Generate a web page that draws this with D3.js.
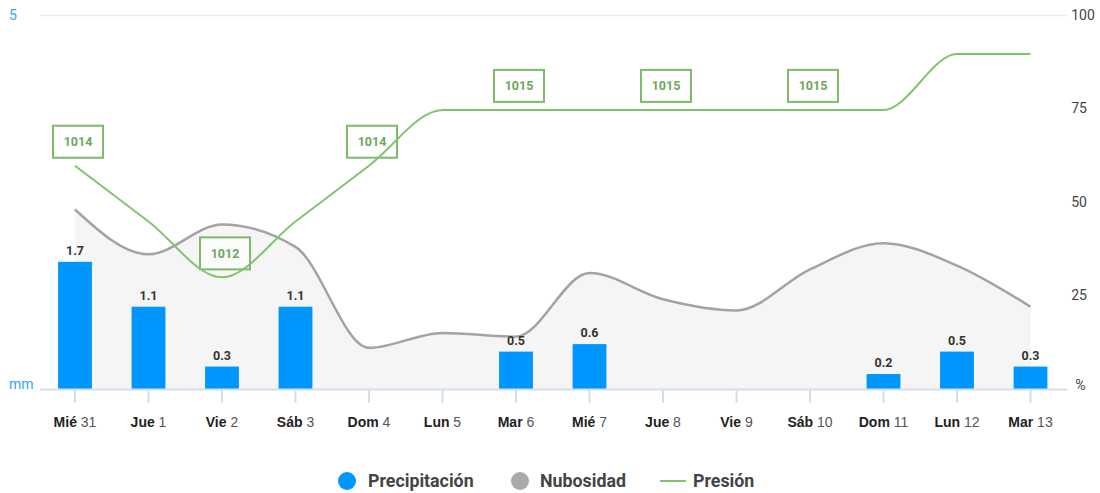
<!DOCTYPE html>
<html><head><meta charset="utf-8">
<script src="https://cdn.jsdelivr.net/npm/d3@7"></script>
<style>
body{margin:0;background:#fff;font-family:Roboto,"Noto Sans",sans-serif;}
svg{display:block;}
</style></head>
<body><svg id="c" width="1100" height="493"></svg>
<script>
const dayNames = ["Mié","Jue","Vie","Sáb","Dom","Lun","Mar","Mié","Jue","Vie","Sáb","Dom","Lun","Mar"];
const dayNums = ["31","1","2","3","4","5","6","7","8","9","10","11","12","13"];
const precipitation = [1.7,1.1,0.3,1.1,0,0,0.5,0.6,0,0,0,0.2,0.5,0.3];
const cloudiness = [48,36,44,38,11,15,14,31,24,21,32,39,33,22];
const pressure = [1014,1013,1012,1013,1014,1015,1015,1015,1015,1015,1015,1015,1016,1016];
const pressureLabelDays = [0,2,4,6,8,10];
const rightTicks = [0,25,50,75,100];
const leftLabels = ["5","mm"];
const legendItems = ["Precipitación","Nubosidad","Presión"];

const svg = d3.select("#c");
const L = 38.25, R = 1067.25, T = 15, B = 389;
const idx = d3.range(dayNames.length);

const x = d3.scaleBand().domain(idx).range([L, R]).paddingInner(0.54).paddingOuter(0.27);
const cx = i => x(i) + x.bandwidth()/2;
const yP = d3.scaleLinear().domain([0,5]).range([B,T]);
const yC = d3.scaleLinear().domain([0,100]).range([B,T]);
const yPr = d3.scaleLinear().domain([1010,1016.7]).range([B,T]);

// top gridline
svg.append("line").attr("x1",40).attr("x2",R).attr("y1",yC(100)+0.5).attr("y2",yC(100)+0.5)
  .attr("stroke","#ececec").attr("stroke-width",1.5);

// cloud area
const area = d3.area().x((d,i)=>cx(i)).y0(B).y1(d=>yC(d)).curve(d3.curveMonotoneX);
const line = d3.line().x((d,i)=>cx(i)).y(d=>yC(d)).curve(d3.curveMonotoneX);
svg.append("path").attr("d",area(cloudiness)).attr("fill","#f5f5f5");
svg.append("path").attr("d",line(cloudiness)).attr("fill","none").attr("stroke","#a3a3a3").attr("stroke-width",2.5);

// bars
svg.selectAll("rect.bar").data(precipitation).join("rect").attr("class","bar")
  .attr("x",(d,i)=>x(i)).attr("width",x.bandwidth())
  .attr("y",d=>yP(d)).attr("height",d=>B-yP(d))
  .attr("fill","#0096ff");
svg.selectAll("text.bl").data(precipitation.map((v,i)=>({v,i})).filter(d=>d.v>0)).join("text").attr("class","bl")
  .attr("x",d=>cx(d.i)).attr("y",d=>yP(d.v)-7).attr("text-anchor","middle")
  .attr("font-size",12.5).attr("font-weight","bold").attr("fill","#333").text(d=>d.v.toFixed(1));

// pressure labels
const pl = svg.selectAll("g.pl").data(pressureLabelDays).join("g").attr("class","pl")
  .attr("transform",i=>`translate(${cx(i)+3},${yPr(pressure[i])-24})`);
pl.append("rect").attr("x",-25).attr("y",-16).attr("width",50).attr("height",32)
  .attr("fill","rgba(255,255,255,0.6)").attr("stroke","#7dba6a").attr("stroke-width",2);
pl.append("text").attr("text-anchor","middle").attr("dy","0.35em").attr("font-size",12.5)
  .attr("font-weight","bold").attr("fill","#6aa85a").text(i=>pressure[i]);

// pressure line
const pline = d3.line().x((d,i)=>cx(i)).y(d=>yPr(d)).curve(d3.curveMonotoneX);
svg.append("path").attr("d",pline(pressure)).attr("fill","none").attr("stroke","#82c36e").attr("stroke-width",2);

// x axis
const xa = svg.append("g").attr("transform",`translate(0,${B})`)
  .call(d3.axisBottom(x).tickSize(14).tickSizeOuter(0).tickFormat(""));
xa.select(".domain").attr("d",`M40,0.5H${R}`).attr("stroke","#d5ddec").attr("stroke-width",2);
xa.selectAll(".tick line").attr("stroke","#d5ddec").attr("stroke-width",2);
const xt = xa.selectAll(".tick").append("text").attr("y",38).attr("text-anchor","middle")
  .attr("font-size",14).attr("fill","#222");
xt.append("tspan").attr("font-weight","bold").text(i=>dayNames[i]);
xt.append("tspan").attr("fill","#555").text(i=>" "+dayNums[i]);

// right axis
const ra = svg.append("g").attr("transform",`translate(${R},0)`)
  .call(d3.axisRight(yC).tickValues(rightTicks).tickSize(0).tickPadding(4).tickFormat(d=>d===0?"%":d));
ra.select(".domain").remove();
ra.selectAll("text").attr("font-size",14).attr("fill","#444").attr("font-family","Roboto");
ra.selectAll(".tick").filter(d=>d===0).select("text").attr("dy","0.05em").attr("x",8);

// left axis labels
svg.append("text").attr("x",9).attr("y",T).attr("dy","0.35em").attr("font-size",14).attr("fill","#2fa4ff").text(leftLabels[0]);
svg.append("text").attr("x",9).attr("y",B-5).attr("dy","0.35em").attr("font-size",14).attr("fill","#2fa4ff").text(leftLabels[1]);

// legend
const lg = svg.append("g").attr("font-size",17.8).attr("font-weight","bold").attr("fill","#444");
lg.append("circle").attr("cx",347).attr("cy",481).attr("r",9).attr("fill","#0096ff");
lg.append("text").attr("x",368).attr("y",481).attr("dy","0.35em").text(legendItems[0]);
lg.append("circle").attr("cx",520).attr("cy",481).attr("r",9).attr("fill","#a9a9a9");
lg.append("text").attr("x",540).attr("y",481).attr("dy","0.35em").text(legendItems[1]);
lg.append("line").attr("x1",660).attr("x2",686).attr("y1",481).attr("y2",481).attr("stroke","#82c36e").attr("stroke-width",2);
lg.append("text").attr("x",693).attr("y",481).attr("dy","0.35em").text(legendItems[2]);
</script></body></html>
